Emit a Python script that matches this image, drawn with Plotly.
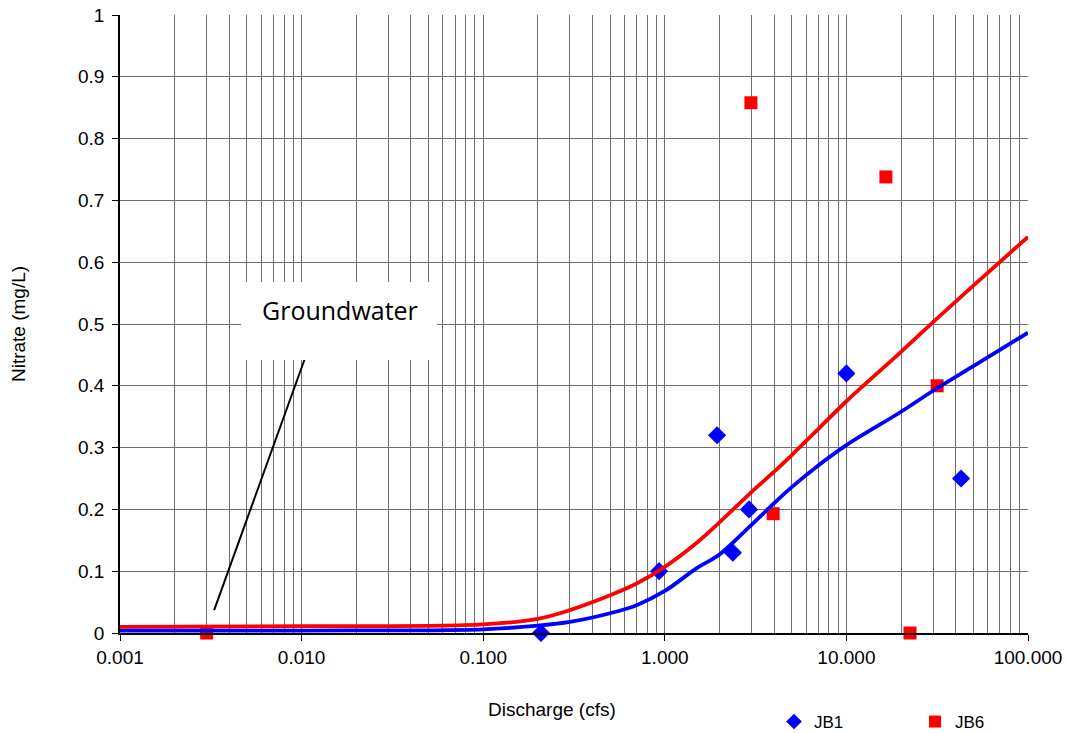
import plotly.graph_objects as go

# ---- data ----
jb1_q = [0.208, 0.93, 1.94, 2.37, 2.91, 10.0, 42.8]
jb1_no3 = [0.0, 0.10, 0.32, 0.13, 0.20, 0.42, 0.25]

jb6_q = [0.003, 2.98, 3.95, 16.5, 22.4, 31.6]
jb6_no3 = [0.0, 0.858, 0.193, 0.738, 0.0, 0.40]

curve_q = [0.001, 0.01, 0.1, 0.2, 0.3, 0.5, 0.7, 1.0, 1.5, 2.0, 3.0, 4.0, 5.0, 7.0, 10, 20, 30, 50, 100]
jb1_fit = [0.004, 0.004, 0.006, 0.012, 0.018, 0.032, 0.045, 0.068, 0.105, 0.127, 0.175, 0.210, 0.236, 0.271, 0.304, 0.358, 0.392, 0.432, 0.486]
jb6_fit = [0.010, 0.011, 0.014, 0.023, 0.037, 0.061, 0.080, 0.107, 0.146, 0.179, 0.228, 0.261, 0.288, 0.330, 0.375, 0.455, 0.503, 0.562, 0.641]

x_tickvals = [0.001, 0.01, 0.1, 1, 10, 100]
x_ticktext = ["0.001", "0.010", "0.100", "1.000", "10.000", "100.000"]
y_tickvals = [0, 0.1, 0.2, 0.3, 0.4, 0.5, 0.6, 0.7, 0.8, 0.9, 1]
y_ticktext = ["0", "0.1", "0.2", "0.3", "0.4", "0.5", "0.6", "0.7", "0.8", "0.9", "1"]

pointer_q = [0.0033, 0.01045]
pointer_no3 = [0.037, 0.445]
annot_text = "Groundwater"
x_title = "Discharge (cfs)"
y_title = "Nitrate (mg/L)"

grid_col = "#707070"
font_main = "Liberation Sans, Arial, sans-serif"

# plot-area geometry (px) used for placing the text boxes
L, R, T, B = 120, 1028, 15, 633
PW, PH = R - L, B - T

fig = go.Figure()

fig.add_trace(go.Scatter(x=jb6_q, y=jb6_no3, mode="markers", name="JB6",
                         marker=dict(symbol="square", size=13, color="#ff0000"),
                         cliponaxis=False))
fig.add_trace(go.Scatter(x=jb1_q, y=jb1_no3, mode="markers", name="JB1",
                         marker=dict(symbol="diamond", size=14, color="#0000ff"),
                         cliponaxis=False))
fig.add_trace(go.Scatter(x=curve_q, y=jb6_fit, mode="lines", showlegend=False,
                         line=dict(color="#ff0000", width=3.8, shape="spline", smoothing=1.0),
                         hoverinfo="skip"))
fig.add_trace(go.Scatter(x=curve_q, y=jb1_fit, mode="lines", showlegend=False,
                         line=dict(color="#0000ff", width=3.8, shape="spline", smoothing=1.0),
                         hoverinfo="skip"))
fig.add_trace(go.Scatter(x=pointer_q, y=pointer_no3, mode="lines", showlegend=False,
                         line=dict(color="black", width=2), hoverinfo="skip"))

# white box behind the annotation text (hides gridlines)
fig.add_annotation(xref="paper", yref="paper",
                   x=(241 - L) / PW, y=(B - 282) / PH, xanchor="left", yanchor="top",
                   text=" ", showarrow=False, width=194, height=76, borderpad=1,
                   bgcolor="white", borderwidth=0)
fig.add_annotation(xref="paper", yref="paper", x=(339.5 - L) / PW, y=(B - 310) / PH,
                   xanchor="center", yanchor="middle",
                   text=annot_text, showarrow=False,
                   font=dict(family="Open Sans, Noto Sans, sans-serif", size=25, color="black"))
# x-axis title (placed as in the original, slightly left of the plot centre)
fig.add_annotation(xref="paper", yref="paper", x=(551.5 - L) / PW, y=(B - 709) / PH,
                   xanchor="center", yanchor="middle", text=x_title, showarrow=False,
                   font=dict(family=font_main, size=19, color="black"))

fig.update_layout(
    width=1066, height=733,
    margin=dict(l=L, r=1066 - R, t=T, b=733 - B),
    paper_bgcolor="white", plot_bgcolor="white",
    font=dict(family=font_main, size=19, color="black"),
    showlegend=True,
    legend=dict(orientation="h", xref="container", yref="container",
                x=774 / 1066, xanchor="left", y=(733 - 722) / 733, yanchor="middle",
                traceorder="reversed", entrywidth=96, font=dict(size=17),
                itemsizing="constant", bgcolor="rgba(0,0,0,0)"),
    xaxis=dict(type="log", range=[-3, 2], tickvals=x_tickvals, ticktext=x_ticktext,
               showgrid=True, gridcolor=grid_col, gridwidth=1,
               ticks="outside", ticklen=6, tickcolor="black",
               showline=True, linecolor="black", linewidth=1.5,
               minor=dict(dtick="D1", showgrid=True, gridcolor=grid_col, gridwidth=1, ticks=""),
               zeroline=False, automargin=False,
               tickfont=dict(size=19)),
    yaxis=dict(range=[0, 1], tickvals=y_tickvals, ticktext=y_ticktext,
               showgrid=True, gridcolor=grid_col, gridwidth=1,
               ticks="outside", ticklen=6, tickcolor="black",
               showline=True, linecolor="black", linewidth=1.5,
               zeroline=False, automargin=False, ticklabelstandoff=4,
               title=dict(text=y_title, font=dict(size=19), standoff=47),
               tickfont=dict(size=19)),
)

fig.write_html("out.html")
